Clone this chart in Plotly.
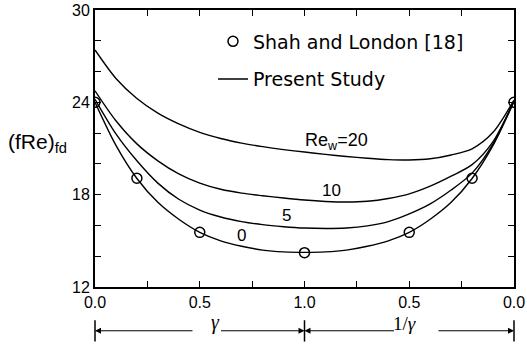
import plotly.graph_objects as go

# Horizontal coordinate: 0..1 is the aspect ratio gamma, 1..2 runs back over 1/gamma (2 - 1/gamma)
X_POS = [0.0, 0.1, 0.2, 0.3, 0.4, 0.5, 0.6, 0.7, 0.8, 0.9, 1.0,
         1.1, 1.2, 1.3, 1.4, 1.5, 1.6, 1.7, 1.8, 1.9, 2.0]

# Fully developed (fRe) for the present study at each wall Reynolds number
FRE_REW0 = [24.0, 21.2, 19.05, 17.5, 16.4, 15.55, 15.0, 14.65, 14.4, 14.28, 14.25,
            14.28, 14.4, 14.65, 15.0, 15.55, 16.4, 17.5, 19.05, 21.2, 24.05]
FRE_REW5 = [24.2, 21.95, 20.2, 18.75, 17.7, 17.0, 16.55, 16.25, 16.05, 15.92, 15.83,
            15.8, 15.83, 15.97, 16.25, 16.75, 17.4, 18.3, 19.4, 21.3, 24.1]
FRE_REW10 = [24.75, 22.8, 21.3, 20.2, 19.35, 18.75, 18.35, 18.1, 17.93, 17.78, 17.65,
             17.56, 17.52, 17.57, 17.75, 18.05, 18.55, 19.2, 19.95, 21.45, 24.1]
FRE_REW20 = [27.4, 25.55, 24.25, 23.3, 22.6, 22.05, 21.65, 21.35, 21.12, 20.93, 20.77,
             20.62, 20.48, 20.37, 20.28, 20.25, 20.33, 20.58, 20.98, 22.05, 24.15]

# Shah and London reference values (Re_w = 0)
REF_POS = [0.0, 0.2, 0.5, 1.0, 1.5, 1.8, 2.0]
REF_FRE = [24.0, 19.07, 15.55, 14.23, 15.55, 19.07, 24.0]

CURVE_LABELS = ["0", "5", "10", "Re<sub>w</sub>=20"]
LABEL_POS = [(0.697, 15.35), (0.916, 16.65), (1.127, 18.25), (1.155, 21.45)]
LABEL_SIZES = [17, 17, 17, 18]

X_TICKS = [0.0, 0.5, 1.0, 1.5, 2.0]
X_TICKTEXT = ["0.0", "0.5", "1.0", "0.5", "0.0"]
Y_TICKS = [12, 18, 24, 30]
Y_TICKTEXT = ["12", "18", "24", "30"]

FONT = "Liberation Sans, Arial, sans-serif"
LEGEND_FONT = "DejaVu Sans, sans-serif"
GREEK_FONT = "Liberation Serif, serif"

fig = go.Figure()

fig.add_trace(go.Scatter(
    x=REF_POS, y=REF_FRE, mode="markers", name="Shah and London [18]",
    legendgroup="ref",
    marker=dict(symbol="circle-open", size=10, color="black", line=dict(width=1.5)),
))

for i, series in enumerate([FRE_REW0, FRE_REW5, FRE_REW10, FRE_REW20]):
    fig.add_trace(go.Scatter(
        x=X_POS, y=series, mode="lines", name="Present Study",
        legendgroup="present", showlegend=(i == 0),
        line=dict(color="black", width=1.4, shape="spline", smoothing=0.8),
    ))

annotations = []
for text, (lx, ly), fs in zip(CURVE_LABELS, LABEL_POS, LABEL_SIZES):
    annotations.append(dict(x=lx, y=ly, xref="x", yref="y", text=text, showarrow=False,
                            font=dict(family=FONT, size=fs, color="black")))

# y-axis title
annotations.append(dict(x=-0.212, y=0.52, xref="paper", yref="paper",
                        text="(fRe)<sub>fd</sub>", showarrow=False, xanchor="left",
                        font=dict(family=FONT, size=21, color="black")))

# gamma / (1/gamma) range indicator under the axis
ROW_Y = -0.158
arrow_specs = [(0.0, 99), (0.5, -85), (0.5, 91), (1.0, -77)]
for tip, ax in arrow_specs:
    annotations.append(dict(x=tip, y=ROW_Y, xref="paper", yref="paper", ax=ax, ay=0,
                            axref="pixel", ayref="pixel", text="", showarrow=True,
                            arrowhead=2, arrowsize=1.2, arrowwidth=1, arrowcolor="black"))
annotations.append(dict(x=(210 - 95) / 419, y=ROW_Y, xref="paper", yref="paper",
                        text="<i>γ</i>", showarrow=False, borderpad=0, yshift=-4,
                        font=dict(family=GREEK_FONT, size=20, color="black")))
annotations.append(dict(x=(417 - 95) / 419, y=ROW_Y, xref="paper", yref="paper",
                        text="1/<i>γ</i>", showarrow=False, borderpad=0, yshift=-4,
                        font=dict(family=GREEK_FONT, size=19, color="black")))

shapes = []
for xd in [0.0, 0.5, 1.0]:
    shapes.append(dict(type="line", xref="x domain", yref="paper",
                       x0=xd, x1=xd, y0=-0.12, y1=-0.197,
                       line=dict(color="black", width=1.5)))

fig.update_layout(
    width=527, height=346,
    margin=dict(l=95, r=13, t=10, b=59),
    paper_bgcolor="white", plot_bgcolor="white",
    font=dict(family=FONT, size=16, color="black"),
    showlegend=True,
    legend=dict(x=0.2816, y=0.955, xanchor="left", yanchor="top",
                bgcolor="rgba(0,0,0,0)", borderwidth=0,
                traceorder="grouped", tracegroupgap=10,
                font=dict(family=LEGEND_FONT, size=19, color="black")),
    annotations=annotations,
    shapes=shapes,
)

tick_style = dict(ticks="inside", ticklen=6, tickwidth=1, tickcolor="black",
                  showline=True, linecolor="black", linewidth=2, mirror="ticks",
                  showgrid=False, zeroline=False, automargin=False,
                  tickfont=dict(family=FONT, size=16, color="black"))

fig.update_xaxes(range=[0, 2], tickmode="array", tickvals=X_TICKS, ticktext=X_TICKTEXT,
                 minor=dict(dtick=0.25, ticks="inside", ticklen=6, tickwidth=1,
                            tickcolor="black", showgrid=False),
                 **tick_style)
fig.update_yaxes(range=[12, 30], tickmode="array", tickvals=Y_TICKS, ticktext=Y_TICKTEXT,
                 minor=dict(dtick=2, ticks="inside", ticklen=6, tickwidth=1,
                            tickcolor="black", showgrid=False),
                 **tick_style)

fig.write_html("out.html")
